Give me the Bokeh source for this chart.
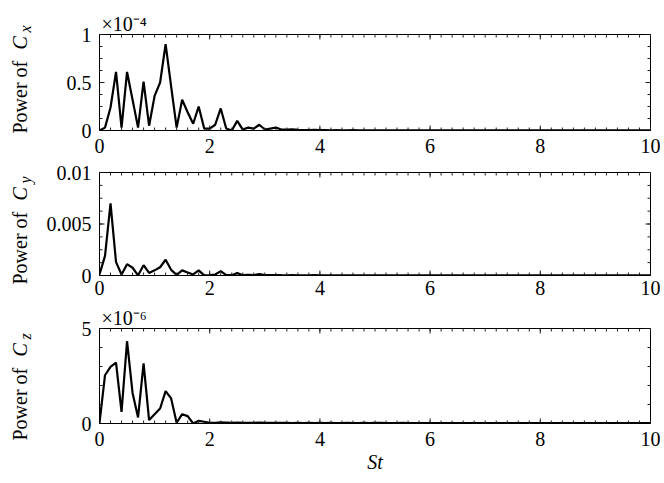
import numpy as np
from bokeh.plotting import figure
from bokeh.layouts import column, row
from bokeh.models import (Range1d, LinearAxis, SingleIntervalTicker,
                          NumeralTickFormatter, Label, Title)
from bokeh.embed import file_html
from bokeh.resources import INLINE

# Strouhal number bins (0 .. 10, step 0.1)
st = np.linspace(0, 10, 101)

# Power of Cx (in units of 1e-4)
cx_e4 = [0.00, 0.03, 0.24, 0.61, 0.03, 0.61, 0.32, 0.03, 0.51, 0.05,
         0.36, 0.50, 0.90, 0.46, 0.03, 0.32, 0.19, 0.07, 0.25, 0.02,
         0.02, 0.06, 0.23, 0.02, 0.00, 0.10, 0.01, 0.03, 0.02, 0.06,
         0.01, 0.02, 0.03, 0.01, 0.01, 0.012, 0.007, 0.005, 0.004, 0.006,
         0.003,
         0.003, 0.002, 0.003, 0.002, 0.002, 0.003, 0.002, 0.002, 0.002, 0.001,
         0.002, 0.002, 0.001, 0.002, 0.001, 0.001, 0.002, 0.001, 0.001, 0.001,
         0.001, 0.002, 0.001, 0.001, 0.001, 0.001, 0.001, 0.001, 0.001, 0.001,
         0.001, 0.001, 0.001, 0.001, 0.001, 0.001, 0.001, 0.001, 0.001, 0.001,
         0.001, 0.001, 0.001, 0.001, 0.001, 0.001, 0.001, 0.001, 0.001, 0.001,
         0.001, 0.001, 0.001, 0.001, 0.001, 0.001, 0.001, 0.001, 0.001, 0.001]

# Power of Cy
cy = [0.0001, 0.0019, 0.0070, 0.0013, 0.0001, 0.0011, 0.00075, 0.00002, 0.0010, 0.00025,
      0.0005, 0.0008, 0.00153, 0.00055, 0.00006, 0.0005, 0.0003, 0.0001, 0.0005, 0.00001,
      0.00003, 0.0001, 0.00042, 0.00003, 0.00003, 0.00023, 0.00003, 0.00006, 0.00003, 0.00013,
      0.00003, 0.00004, 0.00005, 0.00003, 0.00002, 0.00003, 0.00002, 0.00002, 0.00002, 0.00003,
      0.00002,
      0.00002, 0.00001, 0.00002, 0.00001, 0.00002, 0.00001, 0.00001, 0.00002, 0.00001, 0.00001,
      0.00001, 0.00001, 0.00002, 0.00001, 0.00001, 0.00001, 0.00001, 0.00001, 0.00001, 0.00001,
      0.00001, 0.00001, 0.00001, 0.00001, 0.00001, 0.00001, 0.00001, 0.00001, 0.00001, 0.00001,
      0.00001, 0.00001, 0.00001, 0.00001, 0.00001, 0.00001, 0.00001, 0.00001, 0.00001, 0.00001,
      0.00001, 0.00001, 0.00001, 0.00001, 0.00001, 0.00001, 0.00001, 0.00001, 0.00001, 0.00001,
      0.00001, 0.00001, 0.00001, 0.00001, 0.00001, 0.00001, 0.00001, 0.00001, 0.00001, 0.00001]

# Power of Cz (in units of 1e-6)
cz_e6 = [0.03, 2.54, 2.98, 3.21, 0.61, 4.33, 1.61, 0.32, 3.16, 0.18,
         0.49, 0.79, 1.70, 1.32, 0.04, 0.49, 0.39, 0.00, 0.14, 0.09,
         0.03, 0.04, 0.06, 0.05, 0.04, 0.05, 0.04, 0.03, 0.04, 0.05,
         0.04, 0.03, 0.03, 0.04, 0.03, 0.02, 0.03, 0.02, 0.03, 0.02,
         0.03,
         0.02, 0.03, 0.02, 0.02, 0.03, 0.02, 0.02, 0.03, 0.02, 0.03,
         0.03, 0.02, 0.02, 0.02, 0.03, 0.02, 0.02, 0.02, 0.02, 0.02,
         0.02, 0.02, 0.02, 0.02, 0.02, 0.02, 0.02, 0.02, 0.02, 0.02,
         0.02, 0.02, 0.02, 0.02, 0.02, 0.02, 0.02, 0.02, 0.02, 0.02,
         0.02, 0.02, 0.02, 0.02, 0.02, 0.02, 0.02, 0.02, 0.02, 0.02,
         0.02, 0.02, 0.02, 0.02, 0.02, 0.02, 0.02, 0.02, 0.02, 0.02]

# axes ticks
x_limits = (0, 10)
x_major = [0, 2, 4, 6, 8, 10]
x_minor = [round(0.2 * k, 1) for k in range(51)]
y_limits = [(0, 1), (0, 0.01), (0, 5)]
y_major = [[0, 0.5, 1], [0, 0.005, 0.01], [0, 5]]
y_minor = [[0.125 * k for k in range(9)],
           [0.00125 * k for k in range(9)],
           [1, 2, 3, 4]]
subscripts = ["x", "y", "z"]
exponents = ["×10⁻⁴", None, "×10⁻⁶"]

FONT = "Liberation Serif"
TOTAL_H = 475
LEFT_W = 36
B_LEFT, FRAME_W, B_RIGHT = 63, 551, 10   # page x of frame: 99 .. 650


def style_axis(ax, standoff):
    ax.axis_line_color = "black"
    ax.axis_line_width = 1
    ax.major_tick_in = 0
    ax.major_tick_out = 0
    ax.minor_tick_in = 0
    ax.minor_tick_out = 0
    ax.major_label_text_font = FONT
    ax.major_label_text_color = "black"
    ax.major_label_text_font_size = "20px"
    ax.major_label_standoff = standoff


def inward_ticks(p, xlo, xhi, ylo, yhi, ymaj, ymin):
    # box ticks pointing into the frame on all four sides
    kw = dict(marker="dash", line_color="#222222", line_width=1)
    for yy in (ylo, yhi):
        p.scatter(x=x_major, y=[yy] * len(x_major), angle=np.pi / 2, size=10, **kw)
        p.scatter(x=x_minor, y=[yy] * len(x_minor), angle=np.pi / 2, size=6, **kw)
    for xx in (xlo, xhi):
        p.scatter(x=[xx] * len(ymaj), y=ymaj, angle=0, size=10, **kw)
        p.scatter(x=[xx] * len(ymin), y=ymin, angle=0, size=6, **kw)


def make_panel(y, idx, fh, top, bottom, xstand, xlabel=None):
    p = figure(frame_width=FRAME_W, frame_height=fh,
               min_border_left=B_LEFT, min_border_right=B_RIGHT,
               min_border_top=top, min_border_bottom=bottom,
               x_range=Range1d(*x_limits), y_range=Range1d(*y_limits[idx]),
               x_axis_location=None, y_axis_location=None, title=None,
               output_backend="svg", toolbar_location=None)
    p.grid.visible = False
    p.outline_line_color = "black"
    p.outline_line_width = 1
    p.background_fill_color = "white"
    p.border_fill_color = "white"

    xt = SingleIntervalTicker(interval=2, num_minor_ticks=0)
    yt = SingleIntervalTicker(interval=y_major[idx][1], num_minor_ticks=0)

    xb = LinearAxis(ticker=xt)
    style_axis(xb, xstand)
    if xlabel:
        xb.axis_label = xlabel
        xb.axis_label_text_font = FONT
        xb.axis_label_text_font_style = "italic"
        xb.axis_label_text_font_size = "20px"
        xb.axis_label_text_color = "black"
        xb.axis_label_standoff = 2
    p.add_layout(xb, "below")
    yl = LinearAxis(ticker=yt, formatter=NumeralTickFormatter(format="0.[000]"))
    style_axis(yl, 8)
    p.add_layout(yl, "left")

    if exponents[idx]:
        p.add_layout(Title(text=exponents[idx], align="left", offset=2,
                           standoff=0, text_font=FONT, text_font_size="20px",
                           text_font_style="normal", text_color="black"),
                     "above")

    p.line(st, y, line_color="black", line_width=2.2)
    lo, hi = y_limits[idx]
    inward_ticks(p, x_limits[0], x_limits[1], lo, hi, y_major[idx], y_minor[idx])
    return p


def add_ylabel(f, x, start, sub):
    common = dict(angle=90, angle_units="deg", text_font=FONT,
                  text_color="black", text_baseline="top",
                  text_align="left")
    f.add_layout(Label(x=x, y=start, text="Power of",
                       text_font_size="20px", **common))
    f.add_layout(Label(x=x, y=start - 84, text="C",
                       text_font_size="20px", text_font_style="italic", **common))
    f.add_layout(Label(x=x + 8, y=start - 101, text=sub,
                       text_font_size="16px", text_font_style="italic", **common))


# left strip with the rotated y labels (data coordinates are page pixels)
lab = figure(width=LEFT_W, height=TOTAL_H, min_border=0, title=None,
             x_range=Range1d(0, LEFT_W), y_range=Range1d(TOTAL_H, 0),
             x_axis_location=None, y_axis_location=None,
             output_backend="svg", toolbar_location=None)
lab.grid.visible = False
lab.outline_line_color = None
add_ylabel(lab, 8, 133, subscripts[0])
add_ylabel(lab, 8, 284, subscripts[1])
add_ylabel(lab, 8, 440, subscripts[2])

p1 = make_panel(cx_e4, 0, fh=96, top=34, bottom=31, xstand=8)
p2 = make_panel(cy, 1, fh=103, top=11, bottom=27, xstand=5)
p3 = make_panel(cz_e6, 2, fh=95, top=26, bottom=54, xstand=8, xlabel="St")

layout = row(lab, column(p1, p2, p3, spacing=0), spacing=0)
open("out.html", "w").write(file_html(layout, INLINE))
